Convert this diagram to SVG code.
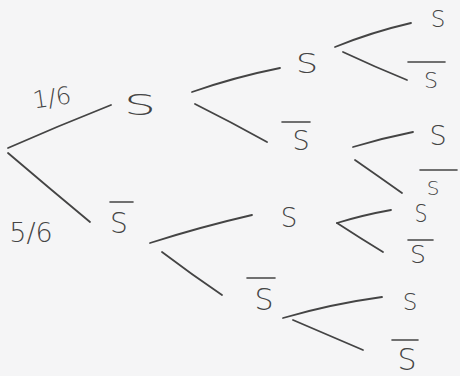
<svg xmlns="http://www.w3.org/2000/svg" width="460" height="376" viewBox="0 0 460 376">
<style>
.e{stroke:#444;stroke-width:1.8;fill:none;stroke-linecap:round}
.b{stroke:#444;stroke-width:1.6;fill:none;stroke-linecap:round}
text{font-family:"DejaVu Sans",sans-serif;fill:#444;text-anchor:middle;font-weight:300}
</style>
<rect width="460" height="376" fill="#f5f5f6"/>
<g id="connectors">
<path class="e" d="M8,148 Q58,126 111,105"/>
<path class="e" d="M8,153 Q49,188 90,222"/>
<path class="e" d="M192,92 Q235,77 280,68"/>
<path class="e" d="M195,104 Q231,122 267,142"/>
<path class="e" d="M150,243 Q200,227 252,215"/>
<path class="e" d="M162,252 Q191,274 222,295"/>
<path class="e" d="M335,47 Q372,32 411,23"/>
<path class="e" d="M343,52 Q375,67 407,80"/>
<path class="e" d="M353,147 Q383,138 413,132"/>
<path class="e" d="M355,160 Q378,176 402,193"/>
<path class="e" d="M337,223 Q363,215 391,210"/>
<path class="e" d="M337,223 Q360,238 383,252"/>
<path class="e" d="M283,318 Q331,304 382,297"/>
<path class="e" d="M293,320 Q328,335 363,350"/>
</g>
<g id="p1"><text x="52" y="106" font-size="24" transform="rotate(-8 52 98)">1/6</text></g>
<g id="p2"><text x="31" y="242" font-size="27">5/6</text></g>
<g id="n1"><text x="140" y="115" font-size="28" textLength="32" lengthAdjust="spacingAndGlyphs">S</text></g>
<g id="n2"><line class="b" x1="110" y1="202" x2="133" y2="202"/><text x="119" y="233" font-size="28">S</text></g>
<g id="n3"><text x="307" y="73" font-size="26" textLength="22" lengthAdjust="spacingAndGlyphs">S</text></g>
<g id="n4"><line class="b" x1="282" y1="122" x2="310" y2="122"/><text x="301" y="150" font-size="27">S</text></g>
<g id="n5"><text x="289" y="227" font-size="26">S</text></g>
<g id="n6"><line class="b" x1="247" y1="278" x2="275" y2="278"/><text x="264" y="310" font-size="30">S</text></g>
<g id="n7"><text x="438" y="27" font-size="23">S</text></g>
<g id="n8"><line class="b" x1="408" y1="62" x2="445" y2="62"/><text x="431" y="88" font-size="22">S</text></g>
<g id="n9"><text x="438" y="145" font-size="27">S</text></g>
<g id="n10"><line class="b" x1="420" y1="170" x2="457" y2="170"/><text x="433" y="195" font-size="20">S</text></g>
<g id="n11"><text x="421" y="222" font-size="25" textLength="13" lengthAdjust="spacingAndGlyphs">S</text></g>
<g id="n12"><line class="b" x1="408" y1="240" x2="433" y2="240"/><text x="418" y="263" font-size="25">S</text></g>
<g id="n13"><text x="410" y="310" font-size="23">S</text></g>
<g id="n14"><line class="b" x1="392" y1="340" x2="418" y2="340"/><text x="407" y="370" font-size="30">S</text></g>
</svg>
